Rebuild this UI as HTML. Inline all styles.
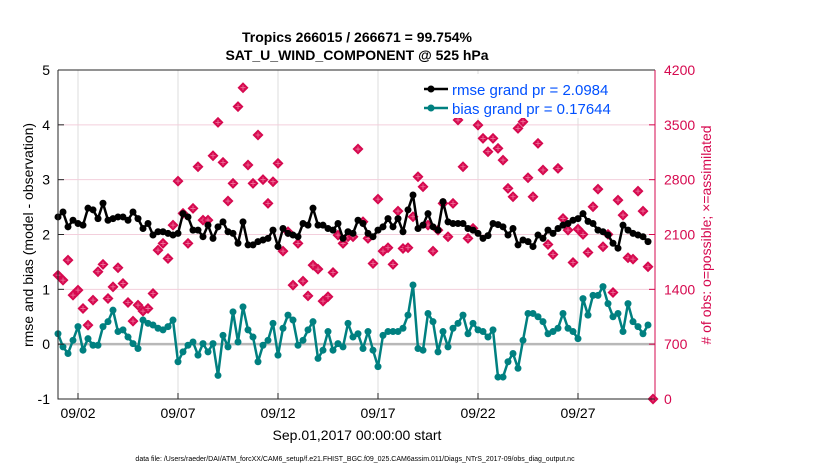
<!DOCTYPE html>
<html><head><meta charset="utf-8"><style>
body{margin:0;background:#fff;font-family:"Liberation Sans",sans-serif}
svg text{font-family:"Liberation Sans",sans-serif}
</style></head><body>
<svg id="chart" width="830" height="470" xmlns="http://www.w3.org/2000/svg">
<rect x="0" y="0" width="830" height="470" fill="#fff"/>
<g id="grid"></g><g id="marks"></g><g id="axes"></g>
<text x="357" y="42" text-anchor="middle" font-size="14" font-weight="bold">Tropics 266015 / 266671 = 99.754%</text>
<text x="357" y="60" text-anchor="middle" font-size="14" font-weight="bold">SAT_U_WIND_COMPONENT @ 525 hPa</text>
<text transform="translate(33,235) rotate(-90)" text-anchor="middle" font-size="14">rmse and bias (model - observation)</text>
<text transform="translate(711,235) rotate(-90)" text-anchor="middle" font-size="14" fill="#d6094f"># of obs: o=possible; ×=assimilated</text>
<text x="357" y="440" text-anchor="middle" font-size="14">Sep.01,2017 00:00:00 start</text>
<text x="355" y="461" text-anchor="middle" font-size="7">data file: /Users/raeder/DAI/ATM_forcXX/CAM6_setup/f.e21.FHIST_BGC.f09_025.CAM6assim.011/Diags_NTrS_2017-09/obs_diag_output.nc</text>
<g>
<rect x="418" y="74" width="234" height="44" fill="#fff"/>
<line x1="424" y1="89" x2="448" y2="89" stroke="#000" stroke-width="2.5"/><circle cx="431" cy="89" r="3.5" fill="#000"/>
<text x="452" y="95" font-size="15" fill="#0050ff">rmse grand pr = 2.0984</text>
<line x1="424" y1="108" x2="448" y2="108" stroke="#008080" stroke-width="2.5"/><circle cx="431" cy="108" r="3.5" fill="#008080"/>
<text x="452" y="114" font-size="15" fill="#0050ff">bias grand pr = 0.17644</text>
</g>
</svg>
<script>
const rmse=[2.32,2.41,2.14,2.26,2.20,2.17,2.48,2.45,2.29,2.57,2.26,2.29,2.32,2.32,2.26,2.41,2.29,2.11,2.20,1.99,2.05,2.05,2.02,1.99,2.02,2.38,2.32,2.08,2.08,1.96,2.17,1.93,2.14,2.23,2.05,2.02,1.84,2.23,1.81,1.81,1.87,
1.90,1.93,2.08,1.78,2.11,2.02,1.99,1.96,2.20,2.17,2.48,2.17,2.17,2.11,2.08,2.20,1.93,2.05,2.02,2.26,2.20,2.02,1.96,2.08,2.14,2.29,2.14,2.29,2.05,2.45,2.72,2.11,2.17,2.38,2.14,2.08,2.60,2.23,2.20,
2.20,2.20,2.11,2.08,2.02,1.93,1.98,2.20,2.18,2.14,1.99,2.11,1.81,1.90,1.87,1.78,1.99,1.93,2.08,2.02,2.11,2.17,2.20,2.26,2.29,2.38,2.24,2.20,2.08,2.05,1.99,1.84,1.75,2.17,2.08,2.02,1.99,1.96,1.87];
const bias=[0.19,-0.05,-0.17,0.07,0.32,-0.11,0.10,-0.02,-0.02,0.32,0.41,0.62,0.23,0.26,0.13,0.01,-0.08,0.44,0.38,0.35,0.29,0.26,0.32,0.44,-0.32,-0.14,-0.02,0.04,-0.20,0.01,-0.14,0.01,-0.57,0.16,-0.05,0.59,0.04,0.68,0.26,0.13,-0.32,
-0.02,0.07,0.38,-0.20,0.29,0.53,0.44,-0.02,0.07,0.26,0.41,-0.26,-0.11,0.23,-0.11,0.01,-0.05,0.38,0.13,0.19,-0.08,0.23,-0.11,-0.41,0.16,0.23,0.23,0.23,0.29,0.53,1.08,-0.08,-0.11,0.56,0.41,-0.14,0.23,-0.05,0.29,
0.38,0.53,0.19,0.38,0.26,0.23,0.13,0.26,-0.60,-0.60,-0.32,-0.17,-0.44,0.07,0.56,0.56,0.50,0.41,0.19,0.23,0.29,0.56,0.29,0.23,0.10,0.83,0.53,0.89,0.89,1.05,0.74,0.50,0.56,0.23,0.74,0.41,0.32,0.19,0.35];
const obsCount=[1581,1518,1773,1326,1390,1156,943,1262,1624,1718,1283,1432,1675,1475,1232,994,1198,1122,1156,1347,1901,1986,1794,2220,2782,2369,1986,2433,2965,2284,2284,3106,3531,3021,2527,2752,3732,3974,2987,2752,3370,
2800,2497,2774,3008,1888,2135,1454,1986,1505,1317,1709,1658,1249,1305,1615,2092,1986,2071,2071,3191,2263,2050,1730,2552,1888,1931,1718,2399,1922,1931,2327,2838,2710,2220,1888,2156,2497,2071,2497,
3561,2965,2050,2178,3497,3327,3157,3327,3199,3050,2689,2582,3455,3540,2825,2582,3263,2923,1973,1845,2944,2305,2156,1743,2169,2101,1871,2454,2680,1943,2101,1360,2539,2348,1803,1786,2654,2399,1688,0];
const leftTicks=[-1,0,1,2,3,4,5];
const rightTicks=[0,700,1400,2100,2800,3500,4200];
const dateLabels=["09/02","09/07","09/12","09/17","09/22","09/27"];
const dateDays=[1,6,11,16,21,26];

const NS="http://www.w3.org/2000/svg";
const L=58,R=655,T=70,B=399;
const xs=d=>L+d*20;
const xi=i=>xs(i*0.25);
const yl=v=>B-(v+1)*(B-T)/6;
const yr=c=>B-c*(B-T)/4200;
function mk(tag,attrs,parent){const e=document.createElementNS(NS,tag);for(const k in attrs)e.setAttribute(k,attrs[k]);parent.appendChild(e);return e;}
const grid=document.getElementById('grid'),marks=document.getElementById('marks'),axes=document.getElementById('axes');

dateDays.forEach((d,k)=>{
  const g=mk('line',{x1:xs(d),x2:xs(d),y1:T,y2:B,stroke:'#dcdcdc','stroke-width':1},grid);
  
  
  const t=mk('line',{x1:xs(d),x2:xs(d),y1:B,y2:B-6,stroke:'#262626'},axes);
  
  
  const tx=mk('text',{x:xs(d),y:418,'text-anchor':'middle','font-size':14},axes);tx.textContent=dateLabels[k];
  
  
});
rightTicks.forEach(c=>{
  if(c>0&&c<4200){const g=mk('line',{x1:L,x2:R,y1:yr(c),y2:yr(c),stroke:'#f3cfdc','stroke-width':1},grid);
  
  }
  const t=mk('line',{x1:R,x2:R-6,y1:yr(c),y2:yr(c),stroke:'#d6094f'},axes);
  
  
  const tx=mk('text',{x:664,y:yr(c)+5,'font-size':14,fill:'#d6094f'},axes);tx.textContent=c;
  
  
});
leftTicks.forEach(v=>{
  const t=mk('line',{x1:L,x2:L+6,y1:yl(v),y2:yl(v),stroke:'#262626'},axes);
  
  
  const tx=mk('text',{x:50,y:yl(v)+5,'text-anchor':'end','font-size':14},axes);tx.textContent=v;
  
  
});
const zl=mk('line',{x1:L,x2:R,y1:yl(0),y2:yl(0),stroke:'#b8b8b8','stroke-width':2.5},grid);



obsCount.forEach((c,i)=>{
  const x=xi(i),y=yr(c);
  const m=mk('g',{},marks);
  
  
  mk('path',{d:`M${x-5.5},${y}L${x},${y-5.5}L${x+5.5},${y}L${x},${y+5.5}Z`,fill:'#d6094f'},m);
  mk('path',{d:`M${x-2.5},${y}H${x+2.5}M${x},${y-2.5}V${y+2.5}`,stroke:'#f07aa0','stroke-width':0.8},m);
});
function series(arr,color,name){
  const pts=arr.map((v,i)=>xi(i)+','+yl(v)).join(' ');
  const p=mk('polyline',{points:pts,fill:'none',stroke:color,'stroke-width':2.5,'stroke-linejoin':'round'},marks);
  
  
  arr.forEach((v,i)=>{const c=mk('circle',{cx:xi(i),cy:yl(v),r:3.5,fill:color},marks);
    
    });
}
series(rmse,'#000','rmse');
series(bias,'#008080','bias');

const ax=mk('path',{d:`M${L},${T}V${B}H${R}`,fill:'none',stroke:'#262626','stroke-width':1},axes);


const tp=mk('line',{x1:L,x2:R,y1:T,y2:T,stroke:'#262626'},axes);


const ra=mk('line',{x1:R,x2:R,y1:T,y2:B,stroke:'#d6094f'},axes);


</script>
</body></html>
